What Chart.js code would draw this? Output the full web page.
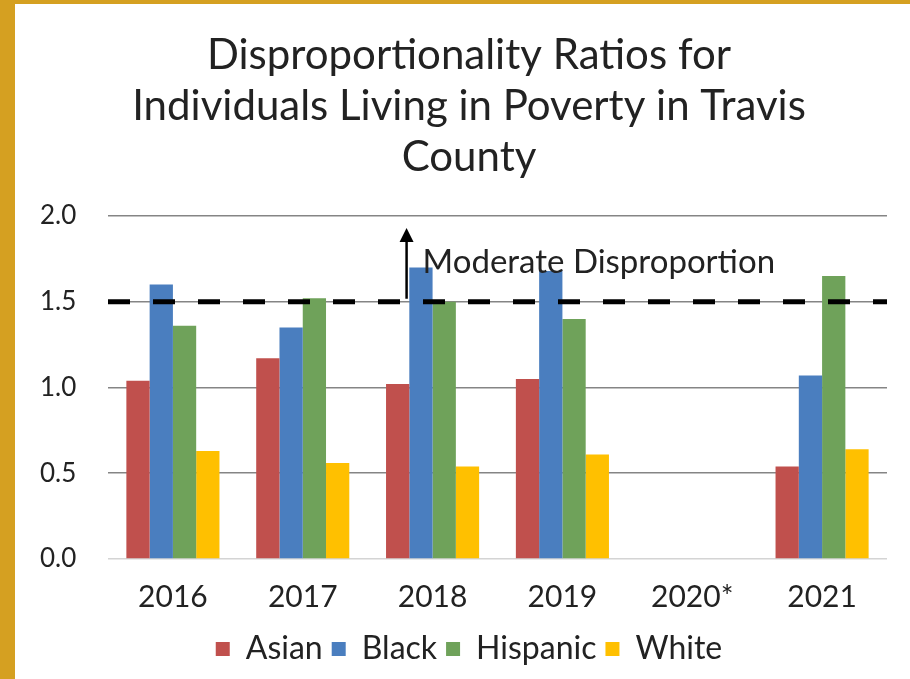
<!DOCTYPE html>
<html>
<head>
<meta charset="utf-8">
<script src="https://cdn.jsdelivr.net/npm/chart.js@4.4.1/dist/chart.umd.min.js"></script>
<style>
  html, body { margin: 0; padding: 0; }
  body { width: 910px; height: 679px; background: #D5A021; position: relative; overflow: hidden; }
  #wrap { position: absolute; left: 15px; top: 4px; width: 895px; height: 675px; background: #ffffff; }
  canvas { display: block; }
</style>
</head>
<body>
<div id="wrap"><canvas id="c" width="895" height="675"></canvas></div>
<script>
// ---- Data ----
const categories = ['2016', '2017', '2018', '2019', '2020*', '2021'];
const asian    = [1.04, 1.17, 1.02, 1.05, null, 0.54];
const black    = [1.60, 1.35, 1.70, 1.68, null, 1.07];
const hispanic = [1.36, 1.52, 1.50, 1.40, null, 1.65];
const white    = [0.63, 0.56, 0.54, 0.61, null, 0.64];
const seriesNames = ['Asian', 'Black', 'Hispanic', 'White'];
const titleLines = ['Disproportionality Ratios for', 'Individuals Living in Poverty in Travis', 'County'];
const threshold = 1.5;
const arrowTop = 1.93;
const annotationText = 'Moderate Disproportion';

const FONT = 'Lato, "Open Sans", sans-serif';
const TEXT = '#222222';

const thresholdPlugin = {
  id: 'threshold',
  afterDatasetsDraw(chart) {
    const { ctx, chartArea, scales: { x, y } } = chart;
    const yp = y.getPixelForValue(threshold);
    ctx.save();
    // dashed line
    ctx.strokeStyle = '#000000';
    ctx.lineWidth = 5;
    ctx.setLineDash([22, 23]);
    ctx.beginPath();
    ctx.moveTo(chartArea.left, yp);
    ctx.lineTo(chartArea.right, yp);
    ctx.stroke();
    // arrow
    ctx.setLineDash([]);
    const ax = x.getPixelForValue(2) - 26;
    const yTop = y.getPixelForValue(arrowTop);
    ctx.lineWidth = 2.5;
    ctx.beginPath();
    ctx.moveTo(ax, yp - 3);
    ctx.lineTo(ax, yTop + 12);
    ctx.stroke();
    ctx.fillStyle = '#000000';
    ctx.beginPath();
    ctx.moveTo(ax, yTop);
    ctx.lineTo(ax - 7, yTop + 14);
    ctx.lineTo(ax + 7, yTop + 14);
    ctx.closePath();
    ctx.fill();
    // label
    ctx.fillStyle = TEXT;
    ctx.font = '33px ' + FONT;
    ctx.textAlign = 'left';
    ctx.textBaseline = 'alphabetic';
    ctx.fillText(annotationText, ax + 16, y.getPixelForValue(1.667));
    ctx.restore();
  }
};

const colors = ['#C0504D', '#4A7EBF', '#6FA25A', '#FFC000'];
const values = [asian, black, hispanic, white];

new Chart(document.getElementById('c'), {
  type: 'bar',
  data: {
    labels: categories,
    datasets: seriesNames.map((name, i) => ({
      label: name,
      data: values[i],
      backgroundColor: colors[i],
      borderWidth: 0,
      categoryPercentage: 0.717,
      barPercentage: 1.0
    }))
  },
  options: {
    responsive: false,
    animation: false,
    layout: { padding: { left: 36, right: 23, top: 0, bottom: 4 } },
    plugins: {
      title: {
        display: true,
        text: titleLines,
        color: TEXT,
        font: { family: FONT, size: 42, weight: 'normal', lineHeight: 51 / 42 },
        padding: { top: 25.5, bottom: 33.5 }
      },
      legend: {
        position: 'bottom',
        labels: {
          color: TEXT,
          font: { family: FONT, size: 32 },
          boxWidth: 14,
          boxHeight: 14,
          padding: 9
        }
      },
      tooltip: { enabled: false }
    },
    scales: {
      x: {
        grid: { display: false, drawTicks: false },
        border: { display: false },
        afterFit(scale) { scale.height = 65; },
        ticks: { color: TEXT, font: { family: FONT, size: 30 }, padding: 20 }
      },
      y: {
        min: 0, max: 2,
        afterFit(scale) { scale.width = 57; },
        ticks: {
          stepSize: 0.5,
          color: TEXT,
          font: { family: FONT, size: 26 },
          mirror: true,
          crossAlign: 'near',
          padding: -68,
          callback: v => v.toFixed(1)
        },
        grid: {
          drawTicks: false,
          color: ctx => (ctx.tick && ctx.tick.value === 0) ? '#d4d4d4' : '#858585',
          lineWidth: 1.6
        },
        border: { display: false }
      }
    }
  },
  plugins: [thresholdPlugin]
});
</script>
</body>
</html>
